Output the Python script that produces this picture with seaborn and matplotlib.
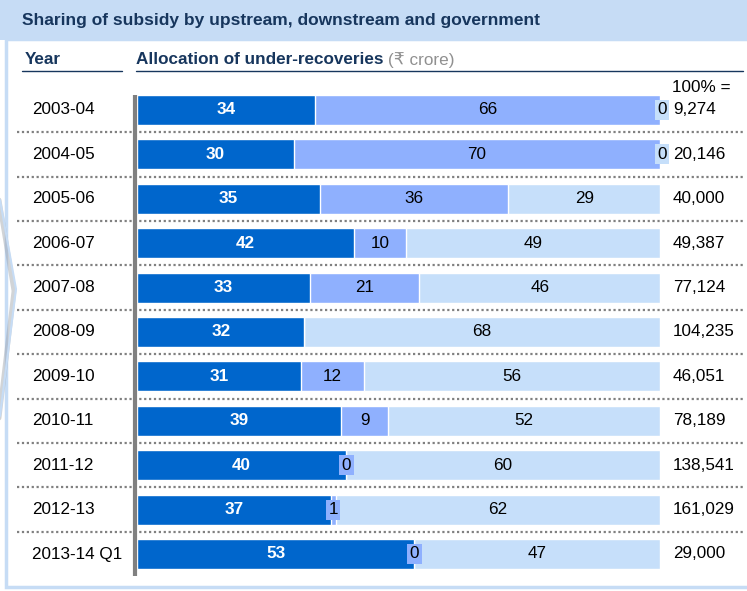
import numpy as np
import pandas as pd
import matplotlib
matplotlib.use("Agg")
import matplotlib.pyplot as plt
import matplotlib.transforms as mtransforms
from matplotlib.patches import Rectangle
import seaborn as sns

# data
years = ["2003-04", "2004-05", "2005-06", "2006-07", "2007-08", "2008-09",
         "2009-10", "2010-11", "2011-12", "2012-13", "2013-14 Q1"]
upstream = [34, 30, 35, 42, 33, 32, 31, 39, 40, 37, 53]
downstream = [66, 70, 36, 10, 21, 0, 12, 9, 0, 1, 0]
government = [0, 0, 29, 49, 46, 68, 56, 52, 60, 62, 47]
totals = ["9,274", "20,146", "40,000", "49,387", "77,124", "104,235",
          "46,051", "78,189", "138,541", "161,029", "29,000"]
# which zero shares get a "0" tag on the chart
show_zero_down = [False, False, False, False, False, False, False, False, True, False, True]
show_zero_gov = [True, True, False, False, False, False, False, False, False, False, False]

DARK = "#0066cc"
MID = "#8fb0fe"
LIGHT = "#c6dffa"
NAVY = "#17365d"

df = pd.DataFrame({"year": years, "up": upstream, "down": downstream, "gov": government})
tot = df[["up", "down", "gov"]].sum(axis=1)
df["c1"] = df["up"] / tot * 100
df["c2"] = (df["up"] + df["down"]) / tot * 100
df["c3"] = 100.0

sns.set_style("white")
plt.rcParams["font.family"] = ["Liberation Sans", "DejaVu Sans"]

W, H = 747, 591
fig = plt.figure(figsize=(W / 100, H / 100), dpi=100)

def fx(p):
    return p / W

def fy(p):
    return 1 - p / H

# title band and panel
fig.patches.append(Rectangle((0, fy(40)), 1, 40 / H, transform=fig.transFigure,
                             facecolor="#c6dcf5", edgecolor="none", zorder=0))
fig.patches.append(Rectangle((fx(6), fy(587)), 1 - fx(6) + 0.01, (587 - 39) / H,
                             transform=fig.transFigure, facecolor="white",
                             edgecolor="#c6dcf5", linewidth=2.5, zorder=0))
fig.text(fx(22), fy(20), "Sharing of subsidy by upstream, downstream and government",
         fontsize=12.5, fontweight="bold", color=NAVY, va="center", ha="left")

# chevron from the neighbouring panel (shadow + light edge)
fig.lines.append(plt.Line2D([fx(-1), fx(14), fx(-1)], [fy(200), fy(291), fy(418)],
                            transform=fig.transFigure, color="#9aa0a8", lw=3.5, alpha=0.45))
fig.lines.append(plt.Line2D([fx(0), fx(16), fx(0)], [fy(200), fy(289), fy(416)],
                            transform=fig.transFigure, color="#c6dcf5", lw=1.5))

# column headers
hfs = 12.3
fig.text(fx(25), fy(60), "Year", fontsize=hfs, fontweight="bold", color=NAVY, va="center")
fig.lines.append(plt.Line2D([fx(22), fx(122)], [fy(71), fy(71)], transform=fig.transFigure,
                            color=NAVY, lw=1))
t = fig.text(fx(136), fy(60), "Allocation of under-recoveries", fontsize=hfs,
             fontweight="bold", color=NAVY, va="center")
r = fig.canvas.get_renderer()
x_end = t.get_window_extent(renderer=r).x1
fig.text(fx(x_end + 4), fy(60), "(\u20b9 crore)", fontsize=hfs, color="#909090", va="center")
fig.lines.append(plt.Line2D([fx(136), fx(743)], [fy(71), fy(71)], transform=fig.transFigure,
                            color=NAVY, lw=1))
fig.text(fx(672), fy(88), "100% =", fontsize=12.3, color="black", va="center")

# bar axes: rows centred at 110 + 44.4*i px
pitch = 44.4
top = 110 - pitch / 2
bot = 110 + pitch * 10 + pitch / 2
ax = fig.add_axes([fx(137), fy(bot), fx(660) - fx(137), (bot - top) / H])
ax.set_zorder(3)

sns.barplot(data=df, x="c3", y="year", orient="h", color=LIGHT, saturation=1,
            width=0.68, edgecolor="white", linewidth=1, ax=ax)
sns.barplot(data=df, x="c2", y="year", orient="h", color=MID, saturation=1,
            width=0.68, edgecolor="white", linewidth=1, ax=ax)
sns.barplot(data=df, x="c1", y="year", orient="h", color=DARK, saturation=1,
            width=0.68, edgecolor="white", linewidth=1, ax=ax)
ax.set_xlim(0, 100)
ax.set_ylim(len(years) - 0.5, -0.5)
ax.axis("off")

# vertical axis line
ax.plot([-0.4, -0.4], [-0.34, len(years) - 0.5], color="#808080", lw=3,
        clip_on=False, solid_capstyle="butt")

tr = mtransforms.blended_transform_factory(fig.transFigure, ax.transData)
fs = 12.3
for i, row in df.iterrows():
    ax.text(row["c1"] / 2, i, str(row["up"]), color="white", fontweight="bold",
            fontsize=fs, ha="center", va="center")
    if row["down"] > 1:
        ax.text((row["c1"] + row["c2"]) / 2, i, str(row["down"]), color="black",
                fontsize=fs, ha="center", va="center")
    elif row["down"] == 1 or show_zero_down[i]:
        ax.text((row["c1"] + row["c2"]) / 2, i, str(row["down"]), color="black",
                fontsize=fs, ha="center", va="center",
                bbox=dict(boxstyle="square,pad=0.15", fc=MID, ec="none"))
    if row["gov"] > 0:
        ax.text((row["c2"] + 100) / 2, i, str(row["gov"]), color="black",
                fontsize=fs, ha="center", va="center")
    elif show_zero_gov[i]:
        ax.text(100.4, i, "0", color="black", fontsize=fs, ha="center", va="center",
                bbox=dict(boxstyle="square,pad=0.15", fc=LIGHT, ec="none"), clip_on=False)
    ax.text(fx(32), i, years[i], transform=tr, fontsize=fs, color="black",
            ha="left", va="center")
    ax.text(fx(673), i, totals[i], transform=tr, fontsize=fs, color="black",
            ha="left", va="center")
    if i < len(years) - 1:
        ax.plot([fx(17), fx(745)], [i + 0.5, i + 0.5], transform=tr, color="#808080",
                lw=1.6, ls=(0, (1, 1.2)), clip_on=False)

fig.savefig("out.png", dpi=100)
